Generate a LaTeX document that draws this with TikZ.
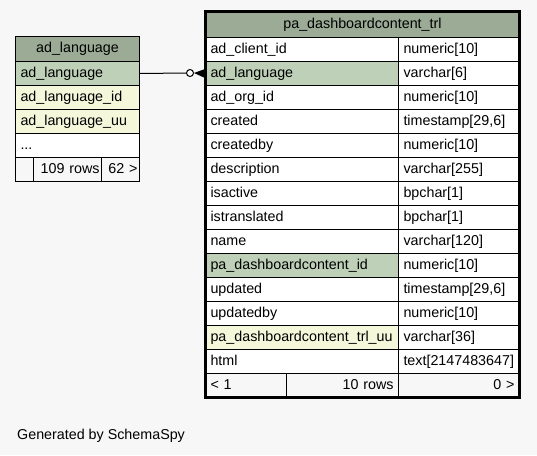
\documentclass[tikz,border=0pt]{standalone}
\usepackage{fontspec}
\setmainfont{Liberation Sans}
\definecolor{bgc}{HTML}{F7F7F7}
\definecolor{hdr}{HTML}{9BAB96}
\definecolor{pkc}{HTML}{BED1B8}
\definecolor{idx}{HTML}{F4F7DA}
\newcommand{\mkcell}[9][5]{%
  \pgfmathsetmacro\mytw{#5-2*#1}%
  \node[cellbox, inner xsep=#1pt, fill=#7, minimum width=#5pt, minimum height=#6pt,
        text width=\mytw pt, align=#8, anchor=north west] (#2) at (#3,#4) {#9};}
\begin{document}
\begin{tikzpicture}[x=1pt,y=-1pt,
  cellbox/.style={draw=black, line width=1pt, rectangle, inner ysep=0pt,
    text height=10.5pt, text depth=3pt, font=\fontsize{14.3}{17}\selectfont},
  plain/.style={inner sep=0pt, font=\fontsize{14.3}{17}\selectfont}]
\fill[bgc] (0,0) rectangle (537,455);
\useasboundingbox (0,0) rectangle (537,455);
% left table
\mkcell{lh}{15}{36}{124}{25}{hdr}{center}{ad\_language}
\mkcell{l1}{15}{61}{124}{24}{pkc}{left}{ad\_language}
\mkcell{l2}{15}{85}{124}{24}{idx}{left}{ad\_language\_id}
\mkcell{l3}{15}{109}{124}{24}{idx}{left}{ad\_language\_uu}
\mkcell{l4}{15}{133}{124}{24}{white}{left}{...}
\mkcell[2]{lf1}{15}{157}{18}{24}{bgc}{left}{}
\mkcell[2]{lf2}{33}{157}{68}{24}{bgc}{right}{109 rows}
\mkcell[2]{lf3}{101}{157}{38}{24}{bgc}{right}{62 >}
% right table
\mkcell{rh}{205}{12}{314}{25}{hdr}{center}{pa\_dashboardcontent\_trl}
\mkcell{r1}{205}{37}{193}{24}{white}{left}{ad\_client\_id}
\mkcell{t1}{398}{37}{121}{24}{white}{left}{numeric[10]}
\mkcell{r2}{205}{61}{193}{24}{pkc}{left}{ad\_language}
\mkcell{t2}{398}{61}{121}{24}{white}{left}{varchar[6]}
\mkcell{r3}{205}{85}{193}{24}{white}{left}{ad\_org\_id}
\mkcell{t3}{398}{85}{121}{24}{white}{left}{numeric[10]}
\mkcell{r4}{205}{109}{193}{24}{white}{left}{created}
\mkcell{t4}{398}{109}{121}{24}{white}{left}{timestamp[29,6]}
\mkcell{r5}{205}{133}{193}{24}{white}{left}{createdby}
\mkcell{t5}{398}{133}{121}{24}{white}{left}{numeric[10]}
\mkcell{r6}{205}{157}{193}{24}{white}{left}{description}
\mkcell{t6}{398}{157}{121}{24}{white}{left}{varchar[255]}
\mkcell{r7}{205}{181}{193}{24}{white}{left}{isactive}
\mkcell{t7}{398}{181}{121}{24}{white}{left}{bpchar[1]}
\mkcell{r8}{205}{205}{193}{24}{white}{left}{istranslated}
\mkcell{t8}{398}{205}{121}{24}{white}{left}{bpchar[1]}
\mkcell{r9}{205}{229}{193}{24}{white}{left}{name}
\mkcell{t9}{398}{229}{121}{24}{white}{left}{varchar[120]}
\mkcell{r10}{205}{253}{193}{24}{pkc}{left}{pa\_dashboardcontent\_id}
\mkcell{t10}{398}{253}{121}{24}{white}{left}{numeric[10]}
\mkcell{r11}{205}{277}{193}{24}{white}{left}{updated}
\mkcell{t11}{398}{277}{121}{24}{white}{left}{timestamp[29,6]}
\mkcell{r12}{205}{301}{193}{24}{white}{left}{updatedby}
\mkcell{t12}{398}{301}{121}{24}{white}{left}{numeric[10]}
\mkcell{r13}{205}{325}{193}{24}{idx}{left}{pa\_dashboardcontent\_trl\_uu}
\mkcell{t13}{398}{325}{121}{24}{white}{left}{varchar[36]}
\mkcell{r14}{205}{349}{193}{24}{white}{left}{html}
\mkcell{t14}{398}{349}{121}{24}{white}{left}{text[2147483647]}
\mkcell{rf1}{205}{373}{81}{24}{bgc}{left}{< 1}
\mkcell{rf2}{286}{373}{112}{24}{bgc}{right}{10 rows}
\mkcell{rf3}{398}{373}{121}{24}{bgc}{right}{0 >}
\draw[line width=3pt] (205.5,11.5) rectangle (519,397.5);
% connector
\node[circle, draw=black, line width=1pt, fill=white, minimum size=7pt, inner sep=0pt] (odot) at (190,73) {};
\draw[line width=1pt] (l1.east) -- (odot.west);
\fill[black] (odot.east) -- ([yshift=4.5pt]r2.west) -- ([yshift=-4.5pt]r2.west) -- cycle;
\node[plain, anchor=west] (gen) at (17,436) {Generated by SchemaSpy};
\end{tikzpicture}
\end{document}
